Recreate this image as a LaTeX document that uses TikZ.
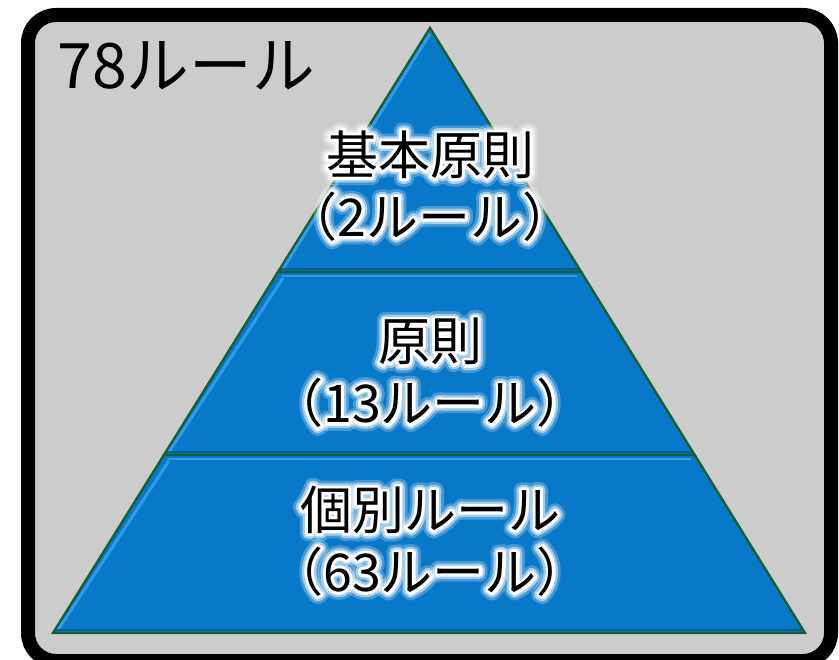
\documentclass[tikz,border=0pt]{standalone}
\usepackage{fontspec}
\newfontfamily\jpfont{Noto Sans CJK JP}
\usetikzlibrary{calc}
\definecolor{boxgray}{RGB}{204,204,204}
\definecolor{pyblue}{RGB}{8,120,200}
\definecolor{pyedge}{RGB}{25,95,45}
\definecolor{pylight}{RGB}{45,155,240}
\definecolor{pydark}{RGB}{10,70,110}
\tikzset{
  lbl/.style={font=\jpfont\fontsize{39}{46.5}\selectfont, align=center, inner sep=0pt},
  toplbl/.style={font=\jpfont\fontsize{47}{54}\selectfont, inner sep=0pt, anchor=west},
  layer/.style={fill=pyblue, draw=pyedge, line width=1.8pt, line join=miter},
  bevlight/.style={draw=pylight, line width=2.2pt},
  bevdark/.style={draw=pydark, line width=1.5pt, opacity=0.6},
  frame/.style={draw=black, fill=boxgray, line width=10.5pt, rounded corners=21pt}
}
% white outline via PDF text render mode (fill + stroke)
\newcommand\outlined[2]{\special{pdf:literal 2 Tr 1 1 1 RG 1 1 1 rg #1 w 1 j 1 J}#2\special{pdf:literal 0 Tr}}
\newcommand\glowlabel[4]{%
  \node[lbl, text=white, opacity=0.25] at (#2) {\outlined{12}{#3}\\\outlined{12}{#4}};
  \node[lbl, text=white, opacity=0.5] at (#2) {\outlined{8}{#3}\\\outlined{8}{#4}};
  \node[lbl, text=white] at (#2) {\outlined{4.5}{#3}\\\outlined{4.5}{#4}};
  \node[lbl] (#1) at (#2) {#3\\#4};
}
\begin{document}
\begin{tikzpicture}[x=0.75pt, y=-0.75pt]
\useasboundingbox (0,0) rectangle (839,660);
\clip (0,0) rectangle (839,660);
\path[frame] (28,15) rectangle (831,661);
\node[toplbl] (title) at (57,66) {78ルール};
% pyramid geometry
\coordinate (A) at (430,28);
\coordinate (BL) at (53,633);
\coordinate (BR) at (805,633);
\coordinate (L1) at ($(A)!0.4033!(BL)$);
\coordinate (R1) at ($(A)!0.4033!(BR)$);
\coordinate (L2) at ($(A)!0.7058!(BL)$);
\coordinate (R2) at ($(A)!0.7058!(BR)$);
% layers
\path[layer] (A) -- (R1) -- (L1) -- cycle;
\path[layer] (L1) -- (R1) -- (R2) -- (L2) -- cycle;
\path[layer] (L2) -- (R2) -- (BR) -- (BL) -- cycle;
% bevel highlights
\draw[bevlight] ($(L1)+(4,4)$) -- ($(R1)+(-4,4)$);
\draw[bevlight] ($(L2)+(4,4)$) -- ($(R2)+(-4,4)$);
\draw[bevlight] ($(A)+(0,6)$) -- ($(L1)+(5,-3)$);
\draw[bevlight] ($(L1)+(5,6)$) -- ($(L2)+(5,-3)$);
\draw[bevlight] ($(L2)+(5,6)$) -- ($(BL)+(5,-3)$);
\draw[bevdark] ($(L1)+(3,-3)$) -- ($(R1)+(-3,-3)$);
\draw[bevdark] ($(L2)+(3,-3)$) -- ($(R2)+(-3,-3)$);
\draw[bevdark] ($(BL)+(3,-3)$) -- ($(BR)+(-3,-3)$);
% labels
\coordinate (p1) at (430,186);
\coordinate (p2) at (430,373);
\coordinate (p3) at (430,541);
\glowlabel{t1}{p1}{基本原則}{（2ルール）}
\glowlabel{t2}{p2}{原則}{（13ルール）}
\glowlabel{t3}{p3}{個別ルール}{（63ルール）}
\end{tikzpicture}
\end{document}
